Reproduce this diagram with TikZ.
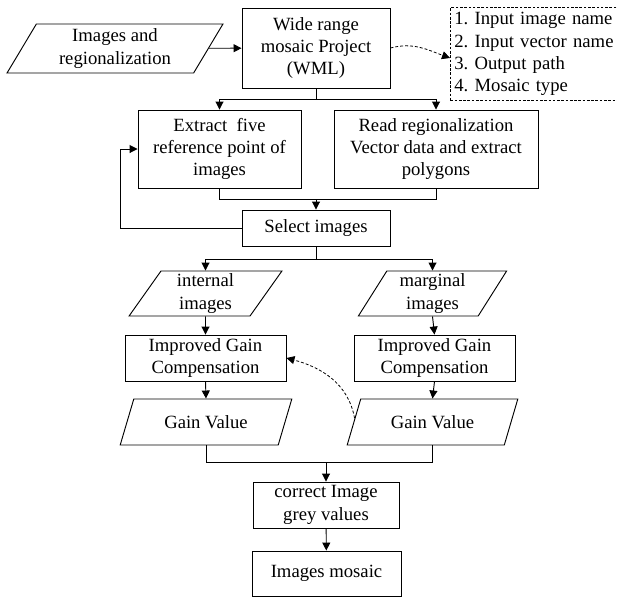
\documentclass[tikz,border=0pt]{standalone}
\usepackage{fontspec}
\setmainfont{Liberation Serif}
\usepackage{tikz}
\usetikzlibrary{shapes.geometric, arrows.meta, positioning, calc}
\frenchspacing

\begin{document}
\begin{tikzpicture}[
  x=0.75pt, y=0.75pt,
  font=\fontsize{14}{16.75}\selectfont,
  stepbox/.style={rectangle, draw, line width=0.7pt, align=center, inner sep=1pt, minimum width=#1},
  databox/.style={trapezium, trapezium left angle=63, trapezium right angle=117, trapezium stretches=true, draw, line width=0.7pt, align=center, inner sep=1pt, minimum width=#1},
  notebox/.style={rectangle, draw, dashed, dash pattern=on 2pt off 1.2pt, line width=0.6pt, align=left, inner xsep=3pt, text width=140pt, minimum height=69pt},
  flowarrow/.style={-{Triangle[width=6pt, length=6pt]}, line width=0.7pt},
  flowline/.style={line width=0.7pt},
  hintarrow/.style={-{Triangle[width=6pt, length=6pt]}, line width=0.6pt, dashed, dash pattern=on 2.2pt off 1.5pt}
]
  \useasboundingbox (0,0) rectangle (617,-597);

  % Project set-up
  \node[databox=162pt, minimum height=36.75pt] (input) at (115,-48.5) {Images and\\regionalization};
  \node[stepbox=111pt, minimum height=60pt] (wml) at (316,-48) {Wide range\\mosaic Project\\(WML)};
  \node[notebox, anchor=west] (notes) at (450,-54) {1. Input image name\\2. Input vector name\\3. Output path\\4. Mosaic type};

  % Preparation
  \node[stepbox=122.25pt, minimum height=58.5pt] (extract) at (219.5,-149) {Extract\ \ five\\reference point of\\images};
  \node[stepbox=153pt, minimum height=58.5pt] (read) at (436,-149) {Read regionalization\\Vector data and extract\\polygons};
  \node[stepbox=111pt, minimum height=27pt] (select) at (316,-228) {Select images};

  % Two branches
  \node[databox=114.75pt, minimum height=33.75pt] (internal) at (205.5,-293.5) {internal\\images};
  \node[databox=111.75pt, minimum height=33.75pt] (marginal) at (432.5,-293.5) {marginal\\images};
  \node[stepbox=120.75pt, minimum height=34.5pt] (gainL) at (205.5,-358) {Improved Gain\\Compensation};
  \node[stepbox=120.75pt, minimum height=34.5pt] (gainR) at (434.5,-358) {Improved Gain\\Compensation};
  \node[databox=129pt, minimum height=34.5pt] (valueL) at (206,-422) {Gain Value};
  \node[databox=128.25pt, minimum height=34.5pt] (valueR) at (432.5,-422) {Gain Value};

  % Output
  \node[stepbox=109.5pt, minimum height=34.5pt] (correct) at (326,-505) {correct Image\\grey values};
  \node[stepbox=111.75pt, minimum height=33.75pt] (mosaic) at (326.5,-573.5) {Images mosaic};

  % Connections
  \draw[flowarrow] (input) -- (wml);
  \draw[hintarrow] (wml.east) to[out=15, in=160] ([yshift=-3pt]notes.west);
  \draw[flowline] (wml.south) -- ++(0,-11) coordinate (s1);
  \draw[flowarrow] (s1) -| (extract.north);
  \draw[flowarrow] (s1) -| (read.north);
  \draw[flowline] (extract.south) -- ++(0,-11) coordinate (m1) -| (read.south);
  \draw[flowarrow] (m1 -| select.north) -- (select.north);
  \draw[flowarrow] (select.west) -- ++(-121,0) |- (extract.west);
  \draw[flowline] (select.south) -- ++(0,-13) coordinate (s2);
  \draw[flowarrow] (s2) -| (internal.north);
  \draw[flowarrow] (s2) -| (marginal.north);
  \draw[flowarrow] (internal.south) -- (gainL.north);
  \draw[flowarrow] (marginal.south) -- (gainR.north);
  \draw[flowarrow] (gainL.south) -- (valueL.north);
  \draw[flowarrow] (gainR.south) -- (valueR.north);
  \draw[hintarrow] ($(valueR.top left corner)!0.42!(valueR.bottom left corner)$) to[out=100, in=-15] (gainL.east);
  \draw[flowline] (valueL.south) -- ++(0,-17) coordinate (m2) -| (valueR.south);
  \draw[flowarrow] (m2 -| correct.north) -- (correct.north);
  \draw[flowarrow] (correct) -- (mosaic);
\end{tikzpicture}
\end{document}
